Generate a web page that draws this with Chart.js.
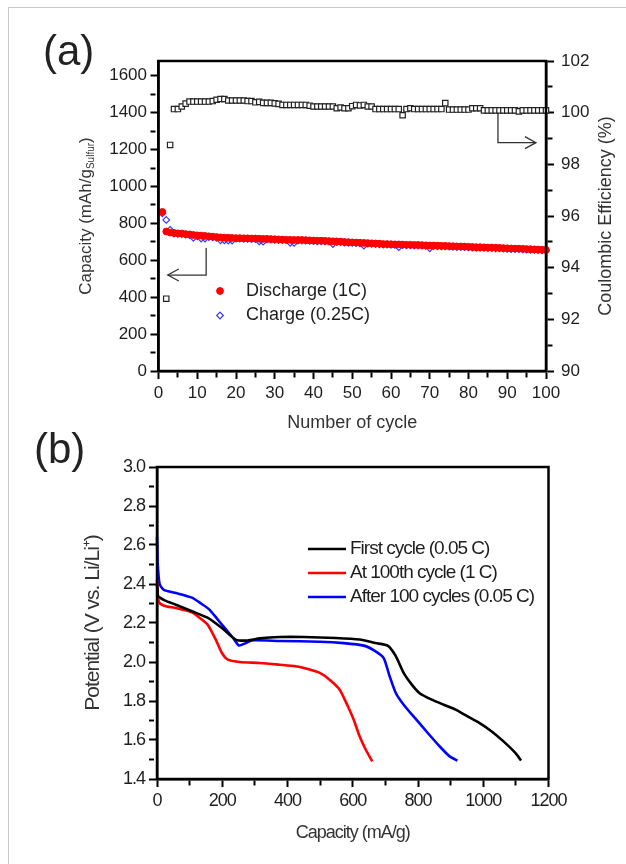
<!DOCTYPE html>
<html>
<head>
<meta charset="utf-8">
<script src="https://cdn.jsdelivr.net/npm/chart.js@4.4.1/dist/chart.umd.min.js"></script>
<style>
  html, body { margin: 0; padding: 0; background: #fff; }
  body { width: 626px; height: 864px; position: relative; overflow: hidden; font-family: "Liberation Sans", Arial, sans-serif; }
  .frame { position: absolute; left: 8px; top: 7px; width: 700px; height: 900px; border-left: 1px solid #c8c8c8; border-top: 1px solid #c8c8c8; }
  .panel { position: absolute; left: 0; width: 626px; }
  #panelA { top: 0; height: 440px; }
  #panelB { top: 440px; height: 424px; }
  .tag { position: absolute; font-size: 42px; line-height: 1; color: #222; }
  #tagA { left: 43px; top: 30px; }
  #tagB { left: 34px; top: 428px; }
</style>
</head>
<body>
<div class="frame"></div>
<div class="panel" id="panelA"><canvas id="cycleChart" width="626" height="440"></canvas></div>
<div class="panel" id="panelB"><canvas id="profileChart" width="626" height="424"></canvas></div>
<div class="tag" id="tagA">(a)</div>
<div class="tag" id="tagB">(b)</div>
<script>
// ---- (a) cycling data, cycle 1..100 ----
const cycles = Array.from({ length: 100 }, (_, i) => i + 1);

const discharge = [
  862, 756, 750, 748, 746, 745, 742, 740, 737, 735,
  734, 732, 730, 728, 726, 724, 723, 722, 721, 720,
  720, 719, 719, 718, 718, 717, 716, 716, 715, 714,
  713, 712, 711, 711, 710, 710, 710, 709, 708, 707,
  706, 706, 705, 704, 703, 702, 701, 699, 698, 697,
  696, 695, 694, 693, 692, 691, 690, 688, 688, 687,
  686, 686, 685, 684, 684, 683, 683, 682, 681, 680,
  680, 679, 678, 678, 677, 676, 675, 675, 674, 673,
  672, 671, 671, 670, 669, 669, 668, 667, 666, 665,
  664, 663, 663, 662, 661, 660, 659, 658, 657, 656
];

const charge = [
  855, 819, 765, 745, 743, 742, 739, 736, 722, 730,
  718, 718, 726, 724, 722, 708, 708, 707, 707, 717,
  717, 716, 716, 715, 715, 702, 701, 713, 712, 711,
  710, 709, 708, 695, 694, 707, 707, 706, 705, 704,
  703, 703, 702, 701, 688, 699, 698, 696, 695, 694,
  693, 692, 679, 690, 689, 688, 687, 685, 685, 684,
  683, 671, 682, 681, 681, 680, 680, 679, 678, 665,
  677, 676, 675, 675, 674, 673, 672, 672, 671, 670,
  669, 668, 668, 667, 666, 666, 665, 664, 663, 662,
  661, 660, 660, 659, 658, 657, 656, 655, 654, 653
];

const efficiency = [
  null, 92.8, 98.75, 100.14, 100.14, 100.24, 100.35, 100.43, 100.43, 100.43,
  100.43, 100.43, 100.43, 100.45, 100.5, 100.53, 100.53, 100.47, 100.47, 100.47,
  100.47, 100.47, 100.45, 100.45, 100.4, 100.42, 100.38, 100.38, 100.38, 100.36,
  100.34, 100.3, 100.3, 100.3, 100.3, 100.3, 100.3, 100.3, 100.27, 100.24,
  100.24, 100.24, 100.24, 100.24, 100.24, 100.17, 100.2, 100.17, 100.17, 100.25,
  100.3, 100.28, 100.3, 100.24, 100.24, 100.14, 100.14, 100.14, 100.14, 100.14,
  100.14, 100.14, 99.9, 100.14, 100.17, 100.14, 100.14, 100.14, 100.14, 100.14,
  100.14, 100.14, 100.14, 100.37, 100.12, 100.12, 100.12, 100.12, 100.12, 100.12,
  100.17, 100.17, 100.17, 100.09, 100.09, 100.09, 100.09, 100.09, 100.09, 100.09,
  100.09, 100.09, 100.05, 100.09, 100.09, 100.09, 100.09, 100.09, 100.09, 100.09
];

const cycleTickLabels = [0, 10, 20, 30, 40, 50, 60, 70, 80, 90, 100];
const capTickLabels = [0, 200, 400, 600, 800, 1000, 1200, 1400, 1600];
const ceTickLabels = [90, 92, 94, 96, 98, 100, 102];

// ---- (b) voltage profiles ----
const firstCap = [0, 3, 9, 25, 58, 107, 156, 199, 241, 278, 315, 376, 450, 548, 621, 670, 707, 732, 756, 781, 805, 842, 879, 915, 952, 989, 1026, 1062, 1099, 1116];
const firstPot = [2.40, 2.34, 2.33, 2.315, 2.294, 2.26, 2.226, 2.174, 2.115, 2.11, 2.121, 2.128, 2.128, 2.123, 2.115, 2.097, 2.084, 2.03, 1.944, 1.884, 1.84, 1.807, 1.781, 1.756, 1.721, 1.687, 1.644, 1.593, 1.533, 1.495];

const cycle100Cap = [0, 3, 9, 30, 58, 107, 131, 156, 180, 199, 217, 254, 315, 376, 425, 462, 499, 529, 560, 585, 603, 621, 640, 660];
const cycle100Pot = [2.42, 2.33, 2.30, 2.285, 2.277, 2.255, 2.226, 2.19, 2.115, 2.046, 2.012, 2.0, 1.995, 1.986, 1.978, 1.964, 1.944, 1.909, 1.858, 1.773, 1.704, 1.619, 1.55, 1.49];

const afterCap = [0, 2, 8, 21, 58, 107, 135, 160, 185, 210, 235, 251, 272, 290, 376, 499, 572, 634, 670, 695, 713, 732, 756, 793, 830, 866, 897, 921];
const afterPot = [2.64, 2.51, 2.40, 2.37, 2.354, 2.33, 2.30, 2.27, 2.22, 2.17, 2.12, 2.085, 2.097, 2.111, 2.108, 2.104, 2.097, 2.084, 2.055, 2.02, 1.927, 1.841, 1.781, 1.708, 1.636, 1.568, 1.516, 1.494];

const capBTickLabels = [0, 200, 400, 600, 800, 1000, 1200];
const potTickLabels = [1.4, 1.6, 1.8, 2.0, 2.2, 2.4, 2.6, 2.8, 3.0];

const REGULAR = '"Liberation Sans", Arial, sans-serif';

Chart.defaults.font.family = REGULAR;
Chart.defaults.color = '#1e1e1e';
Chart.defaults.animation = false;

// major ticks at labelled values, minor ticks half way between
function withMinor(labels) {
    const out = [];
    labels.forEach((v, i) => {
        out.push(v);
        if (i < labels.length - 1) out.push((v + labels[i + 1]) / 2);
    });
    return out;
}

function isMajor(labels, v) {
    return labels.some(l => Math.abs(l - v) < 1e-6);
}

function axisOpts(labels, format, tickFont, tickPad, extra) {
    const base = {
        type: 'linear',
        afterBuildTicks: scale => { scale.ticks = withMinor(labels).map(v => ({ value: v })); },
        grid: {
            drawOnChartArea: false,
            drawTicks: true,
            tickLength: 8,
            tickWidth: 2,
            tickColor: '#000',
            tickBorderDash: ctx => (ctx.tick && isMajor(labels, ctx.tick.value)) ? [] : [5, 40]
        },
        border: { display: true, color: '#000', width: 2.5 },
        ticks: {
            autoSkip: false,
            maxRotation: 0,
            font: tickFont,
            padding: tickPad,
            callback: v => isMajor(labels, v) ? format(v) : ''
        }
    };
    return Object.assign(base, extra);
}

// box round the plot area
const frameBox = {
    id: 'frameBox',
    afterDatasetsDraw(chart) {
        const { ctx, chartArea: a } = chart;
        ctx.save();
        ctx.strokeStyle = '#000';
        ctx.lineWidth = 2.5;
        ctx.strokeRect(a.left, a.top, a.right - a.left, a.bottom - a.top);
        ctx.restore();
    }
};

// condensed lettering for panel (b)
const tightText = {
    id: 'tightText',
    beforeDraw(chart) { chart.ctx.letterSpacing = '-1px'; }
};

// legend drawn inside the plot area
function insetLegend(cfg) {
    return {
        id: 'insetLegend',
        afterDraw(chart) {
            const { ctx, chartArea: a } = chart;
            ctx.save();
            ctx.font = cfg.font;
            ctx.textBaseline = 'middle';
            cfg.items.forEach((idx, row) => {
                const ds = chart.data.datasets[idx];
                const y = a.top + cfg.y + row * cfg.rowGap;
                if (cfg.kind === 'line') {
                    ctx.strokeStyle = ds.borderColor;
                    ctx.lineWidth = ds.borderWidth;
                    ctx.beginPath();
                    ctx.moveTo(a.left + cfg.x, y);
                    ctx.lineTo(a.left + cfg.x + cfg.lineLen, y);
                    ctx.stroke();
                } else {
                    const x = a.left + cfg.x;
                    const r = ds.pointRadius;
                    ctx.beginPath();
                    if (ds.pointStyle === 'rectRot') {
                        ctx.moveTo(x, y - r); ctx.lineTo(x + r, y); ctx.lineTo(x, y + r); ctx.lineTo(x - r, y); ctx.closePath();
                    } else {
                        ctx.arc(x, y, r, 0, Math.PI * 2);
                    }
                    ctx.fillStyle = ds.pointBackgroundColor;
                    ctx.fill();
                    ctx.strokeStyle = ds.pointBorderColor;
                    ctx.lineWidth = ds.pointBorderWidth;
                    ctx.stroke();
                }
                ctx.fillStyle = '#1e1e1e';
                ctx.fillText(ds.label, a.left + cfg.textX, y);
            });
            ctx.restore();
        }
    };
}

// bent arrows pointing to the axis each series belongs to
const cycleArrows = [
    { axis: 'y', path: [[12.3, 667], [12.3, 520], [2.4, 520]] },
    { axis: 'y1', path: [[87.6, 100], [87.6, 98.84], [97.4, 98.84]] }
];
const axisArrows = {
    id: 'axisArrows',
    afterDatasetsDraw(chart) {
        const ctx = chart.ctx;
        const xs = chart.scales.x;
        ctx.save();
        ctx.strokeStyle = '#333';
        ctx.lineWidth = 1.3;
        cycleArrows.forEach(arrow => {
            const ys = chart.scales[arrow.axis];
            const pts = arrow.path.map(p => [xs.getPixelForValue(p[0]), ys.getPixelForValue(p[1])]);
            ctx.beginPath();
            pts.forEach((p, i) => i ? ctx.lineTo(p[0], p[1]) : ctx.moveTo(p[0], p[1]));
            ctx.stroke();
            const [tx, ty] = pts[pts.length - 1];
            const [px, py] = pts[pts.length - 2];
            const ang = Math.atan2(ty - py, tx - px);
            const c = Math.cos(ang), s = Math.sin(ang);
            ctx.beginPath();
            ctx.moveTo(tx - 11 * c + 6 * s, ty - 11 * s - 6 * c);
            ctx.lineTo(tx, ty);
            ctx.lineTo(tx - 11 * c - 6 * s, ty - 11 * s + 6 * c);
            ctx.stroke();
        });
        ctx.restore();
    }
};

// rotated side titles for panel (a): subscript on the left, both read bottom to top
const cycleSideTitles = [
    { side: 'left', offset: -72.5, parts: [
        { text: 'Capacity (mAh/g', size: 17, shift: 0 },
        { text: 'Sulfur', size: 10, shift: 5 },
        { text: ')', size: 17, shift: 0 }
    ] },
    { side: 'right', offset: 60, parts: [
        { text: 'Coulombic Efficiency (%)', size: 18, shift: 0 }
    ] }
];
const sideTitles = {
    id: 'sideTitles',
    afterDraw(chart) {
        const { ctx, chartArea: a } = chart;
        const midY = (a.top + a.bottom) / 2;
        cycleSideTitles.forEach(t => {
            ctx.save();
            ctx.fillStyle = '#333';
            ctx.textBaseline = 'middle';
            ctx.textAlign = 'left';
            ctx.translate(t.side === 'left' ? a.left + t.offset : a.right + t.offset, midY);
            ctx.rotate(-Math.PI / 2);
            let total = 0;
            t.parts.forEach(p => { ctx.font = p.size + 'px ' + REGULAR; total += ctx.measureText(p.text).width; });
            let x = -total / 2;
            t.parts.forEach(p => {
                ctx.font = p.size + 'px ' + REGULAR;
                ctx.fillText(p.text, x, p.shift);
                x += ctx.measureText(p.text).width;
            });
            ctx.restore();
        });
    }
};

const cycleChart = new Chart(document.getElementById('cycleChart'), {
    type: 'scatter',
    data: {
        datasets: [{
            label: 'Discharge (1C)',
            data: cycles.map((c, i) => ({ x: c, y: discharge[i] })),
            yAxisID: 'y',
            pointStyle: 'circle',
            pointRadius: 3.4,
            pointBackgroundColor: '#ff0000',
            pointBorderColor: '#ff0000',
            pointBorderWidth: 1,
            clip: false,
            order: 0
        }, {
            label: 'Charge (0.25C)',
            data: cycles.map((c, i) => ({ x: c, y: charge[i] })),
            yAxisID: 'y',
            pointStyle: 'rectRot',
            pointRadius: 3.3,
            pointBackgroundColor: 'rgba(0,0,0,0)',
            pointBorderColor: '#3a3aff',
            pointBorderWidth: 1.2,
            clip: false,
            order: 1
        }, {
            label: 'Coulombic Efficiency',
            data: cycles.map((c, i) => ({ x: c, y: efficiency[i] })),
            yAxisID: 'y1',
            pointStyle: 'rect',
            pointRadius: 3.8,
            pointBackgroundColor: '#ffffff',
            pointBorderColor: '#222',
            pointBorderWidth: 1.2,
            clip: false,
            order: 2
        }]
    },
    options: {
        responsive: false,
        devicePixelRatio: 1,
        layout: { padding: { left: 0, right: 0, top: 61, bottom: 6 } },
        plugins: { legend: { display: false }, tooltip: { enabled: false } },
        scales: {
            x: axisOpts(cycleTickLabels, v => String(v), { size: 17 }, 4, {
                position: 'bottom', min: 0, max: 100,
                afterFit: s => { s.height = 63; },
                title: { display: true, text: 'Number of cycle', color: '#333', font: { size: 18 }, padding: { top: 0, bottom: 0 } }
            }),
            y: axisOpts(capTickLabels, v => String(v), { size: 17 }, 3.5, {
                position: 'left', min: 0, max: 1680,
                afterFit: s => { s.width = 158.5; }
            }),
            y1: axisOpts(ceTickLabels, v => String(v), { size: 17 }, 7, {
                position: 'right', min: 90, max: 102,
                afterFit: s => { s.width = 80; }
            })
        }
    },
    plugins: [frameBox, axisArrows, sideTitles,
        insetLegend({ items: [0, 1], kind: 'point', x: 61.5, textX: 87.5, y: 230, rowGap: 24.5, font: '18px ' + REGULAR })]
});

const profileChart = new Chart(document.getElementById('profileChart'), {
    type: 'scatter',
    data: {
        datasets: [{
            label: 'First cycle (0.05 C)',
            data: firstCap.map((c, i) => ({ x: c, y: firstPot[i] })),
            borderColor: '#000000',
            borderWidth: 2.6
        }, {
            label: 'At 100th cycle (1 C)',
            data: cycle100Cap.map((c, i) => ({ x: c, y: cycle100Pot[i] })),
            borderColor: '#ff0000',
            borderWidth: 2.6
        }, {
            label: 'After 100 cycles (0.05 C)',
            data: afterCap.map((c, i) => ({ x: c, y: afterPot[i] })),
            borderColor: '#0000ff',
            borderWidth: 2.6
        }].map(ds => Object.assign(ds, { showLine: true, pointRadius: 0, fill: false, tension: 0.2, clip: false }))
    },
    options: {
        responsive: false,
        devicePixelRatio: 1,
        layout: { padding: { left: 81, right: 77.5, top: 27, bottom: 20 } },
        plugins: { legend: { display: false }, tooltip: { enabled: false } },
        scales: {
            x: axisOpts(capBTickLabels, v => String(v), { size: 18 }, 3, {
                position: 'bottom', min: 0, max: 1200,
                afterFit: s => { s.height = 65; },
                title: { display: true, text: 'Capacity (mA/g)', color: '#333', font: { size: 18 }, padding: { top: 0, bottom: 0 } }
            }),
            y: axisOpts(potTickLabels, v => v.toFixed(1), { size: 18 }, 4, {
                position: 'left', min: 1.4, max: 3.0,
                afterFit: s => { s.width = 76; },
                title: { display: true, text: 'Potential (V vs. Li/Li\u207A)', color: '#333', font: { size: 21 }, padding: { top: 0, bottom: 0 } }
            })
        }
    },
    plugins: [tightText, frameBox,
        insetLegend({ items: [0, 1, 2], kind: 'line', x: 151, lineLen: 38, textX: 193, y: 82, rowGap: 24, font: '19px ' + REGULAR })]
});
</script>
</body>
</html>
